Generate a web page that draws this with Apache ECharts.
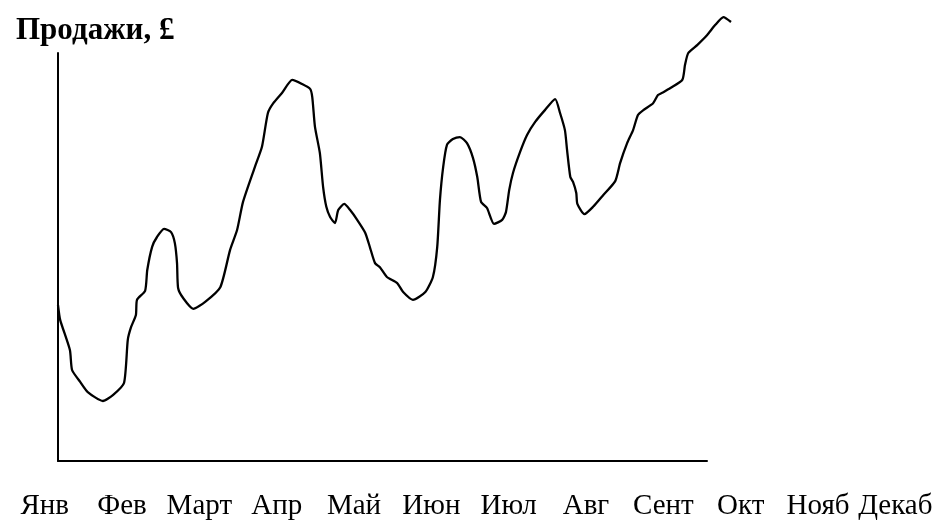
<!DOCTYPE html>
<html>
<head>
<meta charset="utf-8">
<script src="https://cdn.jsdelivr.net/npm/echarts@6/dist/echarts.min.js"></script>
<style>
html,body{margin:0;padding:0;background:#fff;}
#chart{width:944px;height:522px;}
</style>
</head>
<body>
<div id="chart"></div>
<script>
// Month labels shown under the chart
var months = ['Янв','Фев','Март','Апр','Май','Июн','Июл','Авг','Сент','Окт','Нояб','Декаб'];
// Time position (months from start) of each traced point
var timePos = [0,0.04,0.22,0.26,0.41,0.55,0.83,1.02,1.22,1.29,1.35,1.44,1.46,1.61,1.65,1.74,1.83,1.96,2.09,2.16,2.20,2.22,2.31,2.50,2.72,3.00,3.18,3.31,3.42,3.64,3.77,3.88,3.98,4.14,4.33,4.51,4.66,4.70,4.75,4.84,4.90,4.96,5.03,5.12,5.18,5.29,5.40,5.53,5.68,5.77,5.86,5.95,6.08,6.27,6.38,6.56,6.79,6.93,7.01,7.06,7.12,7.19,7.30,7.43,7.56,7.67,7.75,7.82,7.93,8.06,8.21,8.28,8.34,8.41,8.54,8.67,8.82,9.00,9.19,9.28,9.37,9.41,9.47,9.52,9.58,9.60,9.73,9.89,10.08,10.30,10.39,10.52,10.63,10.72,10.82,11.00,11.09,11.19,11.32,11.54,11.59,11.65,11.82,12.00,12.15,12.30,12.44];
// Sales level (arbitrary £ scale) at each point
var sales = [38.2,34.6,27.2,22.3,19.4,16.9,14.7,16.2,19.1,29.7,32.8,35.8,39.5,41.7,46.8,52.5,54.9,56.9,56.1,53.4,48.5,42.4,40.0,37.3,39.0,42.6,51.7,56.6,63.5,72.1,77.0,85.3,87.7,90.2,93.4,92.4,91.2,89.2,81.9,75.5,67.2,62.3,59.8,58.3,61.5,63.0,61.5,59.1,55.9,52.2,48.5,47.5,45.1,43.6,41.4,39.5,41.4,45.1,52.5,64.0,72.1,77.5,78.9,79.4,77.9,74.3,69.6,63.5,62.0,58.1,59.1,61.0,66.4,70.6,75.7,79.9,83.1,86.0,88.7,85.3,81.1,76.2,69.6,68.4,65.7,63.0,60.5,62.3,65.2,68.6,73.0,77.9,81.1,84.8,86.0,87.7,89.7,90.4,91.4,93.4,97.1,100.0,102.0,104.4,106.9,108.8,107.6];
var titleText = 'Продажи, £';

var pts = timePos.map(function(t,i){return [t, sales[i]];});
var serif = "'Liberation Serif','Times New Roman',serif";
var chart = echarts.init(document.getElementById('chart'), null, {renderer:'canvas'});
chart.setOption({
  animation:false,
  backgroundColor:'#ffffff',
  title:{
    text:titleText, left:11, top:10,
    textStyle:{fontFamily:serif, fontWeight:'bold', fontSize:31, color:'#000'}
  },
  grid:[
    {left:58, top:53, width:673, height:408},
    {left:58, top:53, width:649, height:408},
    {left:6, width:928, top:400, height:80}
  ],
  xAxis:[
    {type:'value', gridIndex:0, min:0, max:12.44,
     axisLine:{show:false}, axisTick:{show:false}, axisLabel:{show:false}, splitLine:{show:false}},
    {type:'value', gridIndex:1, min:0, max:12,
     axisLine:{show:true, onZero:false, lineStyle:{color:'#000', width:2}},
     axisTick:{show:false}, axisLabel:{show:false}, splitLine:{show:false}},
    {type:'category', gridIndex:2, data:months, boundaryGap:true,
     axisLine:{show:false}, axisTick:{show:false}, splitLine:{show:false},
     axisLabel:{show:true, interval:0, margin:12, color:'#000', fontFamily:serif, fontSize:29}}
  ],
  yAxis:[
    {type:'value', gridIndex:0, min:0, max:100,
     axisLine:{show:true, onZero:false, lineStyle:{color:'#000', width:2}},
     axisTick:{show:false}, axisLabel:{show:false}, splitLine:{show:false}},
    {type:'value', gridIndex:1, show:false},
    {type:'value', gridIndex:2, show:false}
  ],
  series:[{
    type:'line', xAxisIndex:0, yAxisIndex:0, data:pts,
    clip:false, showSymbol:false, smooth:0.2,
    lineStyle:{color:'#000', width:2.3}
  }]
});
</script>
</body>
</html>
